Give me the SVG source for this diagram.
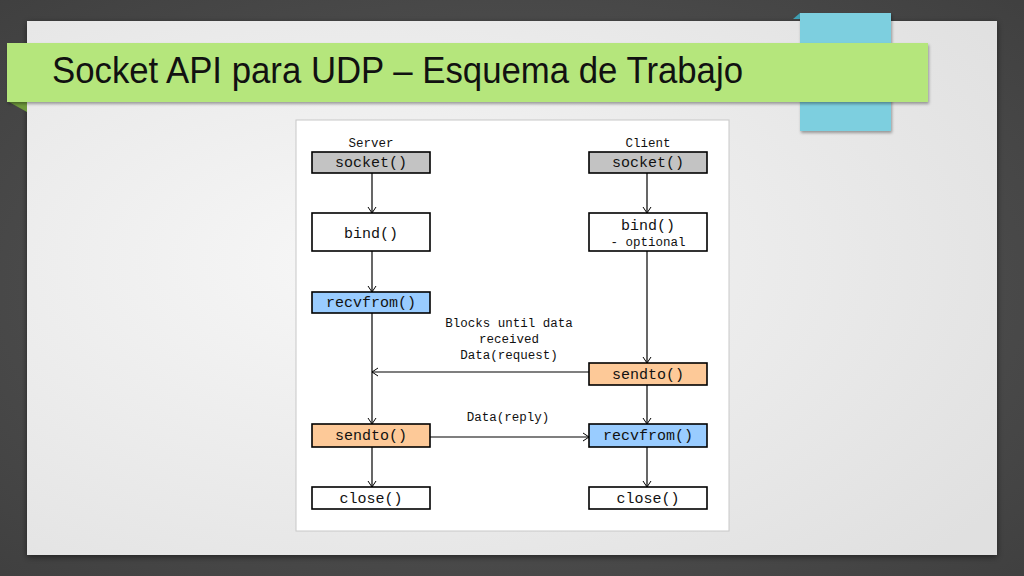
<svg xmlns="http://www.w3.org/2000/svg" width="1024" height="576" viewBox="0 0 1024 576">
<defs>
<radialGradient id="bg" cx="0.5" cy="0.5" r="0.75">
<stop offset="0" stop-color="#5c5c5c"/>
<stop offset="1" stop-color="#3e3e3e"/>
</radialGradient>
<radialGradient id="slide" cx="0.35" cy="0.45" r="0.8">
<stop offset="0" stop-color="#f7f7f7"/>
<stop offset="1" stop-color="#e0e0e0"/>
</radialGradient>
<filter id="sh" x="-5%" y="-5%" width="110%" height="115%">
<feDropShadow dx="0" dy="2" stdDeviation="3" flood-color="#000" flood-opacity="0.5"/>
</filter>
<filter id="sh2" x="-5%" y="-10%" width="110%" height="130%">
<feDropShadow dx="1" dy="2" stdDeviation="1.5" flood-color="#000" flood-opacity="0.35"/>
</filter>
<marker id="arr" markerWidth="12" markerHeight="12" refX="10" refY="6" orient="auto" markerUnits="userSpaceOnUse">
<path d="M4,2 L10,6 L4,10" fill="none" stroke="#000" stroke-width="1"/>
</marker>
</defs>
<style>
.box{stroke:#000;stroke-width:1.6}
.gray{fill:#c3c3c3}
.white{fill:#ffffff}
.blue{fill:#99ccff}
.orange{fill:#fdc998}
.t{font-family:"Liberation Mono","DejaVu Sans Mono",monospace;font-size:15px;fill:#111;text-anchor:middle}
.s{font-family:"Liberation Mono","DejaVu Sans Mono",monospace;font-size:12.5px;fill:#111;text-anchor:middle}
.con line{stroke:#000;stroke-width:1.2;marker-end:url(#arr)}
</style>
<rect width="1024" height="576" fill="url(#bg)"/>
<rect x="27" y="21" width="970" height="534" fill="url(#slide)" filter="url(#sh)"/>
<g id="tab">
<polygon points="793,19 800,13 800,19" fill="#3e9fb3"/>
<rect x="800" y="13" width="91" height="118" fill="#7dcfdf" filter="url(#sh2)"/>
</g>
<g id="banner">
<polygon points="9,102 27,102 27,112" fill="#6f9a3c"/>
<rect x="7" y="43" width="921" height="59" fill="#b5e67c" filter="url(#sh2)"/>
<text x="52" y="83" font-family="'Liberation Sans',Arial,sans-serif" font-size="36" fill="#111" textLength="691" lengthAdjust="spacingAndGlyphs">Socket API para UDP – Esquema de Trabajo</text>
</g>
<rect id="panel" x="296" y="120" width="433" height="411" fill="#ffffff" stroke="#c8c8c8" stroke-width="1"/>
<text class="s" x="371" y="147">Server</text>
<text class="s" x="648" y="147">Client</text>
<g class="con" id="connectors">
<line x1="372" y1="173" x2="372" y2="213"/>
<line x1="372" y1="251" x2="372" y2="292"/>
<line x1="372" y1="313" x2="372" y2="424"/>
<line x1="372" y1="447" x2="372" y2="487"/>
<line x1="647" y1="173" x2="647" y2="213"/>
<line x1="647" y1="251" x2="647" y2="363"/>
<line x1="647" y1="385" x2="647" y2="424"/>
<line x1="647" y1="447" x2="647" y2="487"/>
<line x1="589" y1="372" x2="372" y2="372"/>
<line x1="430" y1="437" x2="589" y2="437"/>
<text class="s" x="509" y="327">Blocks until data</text>
<text class="s" x="509" y="343">received</text>
<text class="s" x="509" y="359">Data(request)</text>
<text class="s" x="508" y="421">Data(reply)</text>
</g>
<g id="s_socket"><rect class="box gray" x="312" y="152" width="118" height="21"/><text class="t" x="371" y="167">socket()</text></g>
<g id="c_socket"><rect class="box gray" x="589" y="152" width="118" height="21"/><text class="t" x="648" y="167">socket()</text></g>
<g id="s_bind"><rect class="box white" x="312" y="213" width="118" height="38"/><text class="t" x="371" y="238">bind()</text></g>
<g id="c_bind"><rect class="box white" x="589" y="213" width="118" height="38"/><text class="t" x="648" y="230">bind()</text><text class="s" x="648" y="246">- optional</text></g>
<g id="s_recvfrom"><rect class="box blue" x="312" y="292" width="118" height="21"/><text class="t" x="371" y="307">recvfrom()</text></g>
<g id="c_sendto"><rect class="box orange" x="589" y="363" width="118" height="22"/><text class="t" x="648" y="379">sendto()</text></g>
<g id="s_sendto"><rect class="box orange" x="312" y="424" width="118" height="23"/><text class="t" x="371" y="440">sendto()</text></g>
<g id="c_recvfrom"><rect class="box blue" x="589" y="424" width="118" height="23"/><text class="t" x="648" y="440">recvfrom()</text></g>
<g id="s_close"><rect class="box white" x="312" y="487" width="118" height="22"/><text class="t" x="371" y="503">close()</text></g>
<g id="c_close"><rect class="box white" x="589" y="487" width="118" height="22"/><text class="t" x="648" y="503">close()</text></g>
</svg>
